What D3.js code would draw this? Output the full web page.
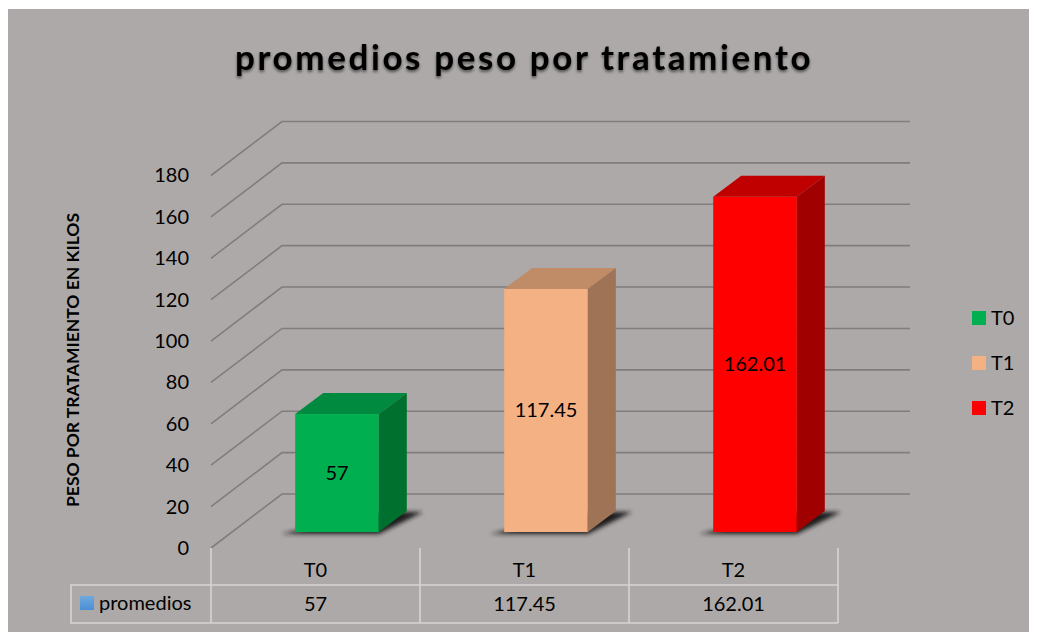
<!DOCTYPE html>
<html>
<head>
<meta charset="utf-8">
<script src="https://cdn.jsdelivr.net/npm/d3@7"></script>
<style>
 html, body { margin: 0; padding: 0; background: #fff; }
 svg { display: block; }
 text { font-family: Lato, Carlito, sans-serif; fill: #000; }
</style>
</head>
<body>
<div id="chart"></div>
<script>
 var categories = ['T0', 'T1', 'T2'];
 var promedios = [57, 117.45, 162.01];
 var value_labels = ['57', '117.45', '162.01'];
 var y_ticks = [0, 20, 40, 60, 80, 100, 120, 140, 160, 180];
 var front_colors = ['#00B050', '#F4B183', '#FF0000'];
 var top_colors = ['#008A3F', '#C08B67', '#C00000'];
 var side_colors = ['#00702F', '#9E7356', '#A00000'];

 var pic_width = 1037,
     pic_height = 632,
     panel_color = '#ADA9A8',
     grid_color = '#807E7D',
     table_color = '#D6D4D3';

 // depth of the fake 3d: walls and bars
 var wall_dx = 71, wall_dy = -54,
     bar_dx = 28, bar_dy = -21;

 var svg = d3.select('#chart').append('svg')
     .attr('width', pic_width)
     .attr('height', pic_height);

 var defs = svg.append('defs');
 defs.append('filter').attr('id', 'soft')
     .attr('x', '-20%').attr('y', '-60%').attr('width', '140%').attr('height', '220%')
     .append('feGaussianBlur').attr('stdDeviation', 2);
 defs.append('filter').attr('id', 'line_blur')
     .append('feGaussianBlur').attr('stdDeviation', 0.4);
 var title_shadow = defs.append('filter').attr('id', 'title_shadow');
 title_shadow.append('feDropShadow')
     .attr('dx', 0).attr('dy', 2).attr('stdDeviation', 1.6)
     .attr('flood-color', '#000').attr('flood-opacity', 0.55);
 var legend_grad = defs.append('linearGradient').attr('id', 'key_grad')
     .attr('x1', 0).attr('y1', 0).attr('x2', 0).attr('y2', 1);
 legend_grad.append('stop').attr('offset', '0%').attr('stop-color', '#6FA8DC');
 legend_grad.append('stop').attr('offset', '100%').attr('stop-color', '#4A8FD6');

 svg.append('rect')
     .attr('x', 8).attr('y', 9)
     .attr('width', 1021).attr('height', 623)
     .attr('fill', panel_color);

 // title
 svg.append('text')
     .attr('x', 524).attr('y', 70)
     .attr('text-anchor', 'middle')
     .style('font-size', '35px')
     .style('font-weight', 700)
     .style('letter-spacing', '2.6px')
     .attr('filter', 'url(#title_shadow)')
     .text('promedios peso por tratamiento');

 // y axis label
 svg.append('text')
     .attr('transform', 'translate(79,360) rotate(-90)')
     .attr('text-anchor', 'middle')
     .style('font-size', '17.5px')
     .style('font-weight', 700)
     .text('PESO POR TRATAMIENTO EN KILOS');

 // scales. yScale is the front of the floor, the bars sit part way into the depth
 var yScale = d3.scaleLinear().domain([0, 180]).range([548, 175.5]);
 var xScale = d3.scaleBand().domain(categories).range([211, 838]);
 var barScale = d3.scaleBand().domain(categories)
     .range([232.5, 859.5])
     .paddingInner(0.6)
     .paddingOuter(0.3);
 var barY = function(v) { return yScale(v) - 16; };

 // gridlines
 var grid = svg.append('g').attr('fill', 'none')
     .attr('stroke', grid_color).attr('stroke-width', 1.6)
     .attr('filter', 'url(#line_blur)');
 grid.selectAll('path').data(y_ticks).enter().append('path')
     .attr('d', function(d) {
         var p = d3.path();
         p.moveTo(211, yScale(d));
         p.lineTo(211 + wall_dx, yScale(d) + wall_dy);
         p.lineTo(910, yScale(d) + wall_dy);
         return p.toString();
     });

 // y axis
 var yAxis = d3.axisLeft(yScale).tickValues(y_ticks).tickSize(0).tickPadding(0);
 var yG = svg.append('g')
     .attr('transform', 'translate(189,0)')
     .call(yAxis);
 yG.select('.domain').remove();
 yG.selectAll('text')
     .style('font-family', 'Lato, Carlito, sans-serif')
     .style('font-size', '20px');

 // bars
 var bars = svg.append('g').selectAll('g').data(promedios).enter().append('g');

 bars.append('path')
     .attr('fill', '#1E1C1C')
     .attr('filter', 'url(#soft)')
     .attr('d', function(d, i) {
         var x = barScale(categories[i]), w = barScale.bandwidth(), y = barY(0);
         return 'M' + (x - 14) + ',' + (y + 2) +
             'L' + (x + w) + ',' + (y + 2) +
             'L' + (x + w + bar_dx + 16) + ',' + (y + bar_dy + 1) +
             'L' + (x + w) + ',' + (y + bar_dy + 1) + 'Z';
     });

 bars.append('rect')
     .attr('x', function(d, i) { return barScale(categories[i]); })
     .attr('y', function(d) { return barY(d); })
     .attr('width', barScale.bandwidth())
     .attr('height', function(d) { return barY(0) - barY(d); })
     .attr('fill', function(d, i) { return front_colors[i]; });

 bars.append('path')
     .attr('fill', function(d, i) { return top_colors[i]; })
     .attr('d', function(d, i) {
         var x = barScale(categories[i]), w = barScale.bandwidth(), y = barY(d);
         return 'M' + x + ',' + y + 'l' + bar_dx + ',' + bar_dy + 'h' + w + 'l' + (-bar_dx) + ',' + (-bar_dy) + 'Z';
     });

 bars.append('path')
     .attr('fill', function(d, i) { return side_colors[i]; })
     .attr('d', function(d, i) {
         var x = barScale(categories[i]) + barScale.bandwidth();
         return 'M' + x + ',' + barY(d) + 'l' + bar_dx + ',' + bar_dy +
             'V' + (barY(0) + bar_dy) + 'L' + x + ',' + barY(0) + 'Z';
     });

 // value labels, placed by hand-ish in the middle of the columns
 bars.append('text')
     .attr('x', function(d, i) { return barScale(categories[i]) + barScale.bandwidth() / 2; })
     .attr('y', function(d) { return (barY(d) + barY(0)) / 2 + 7; })
     .attr('text-anchor', 'middle')
     .style('font-size', '20px')
     .text(function(d, i) { return value_labels[i]; });

 // data table under the chart
 var table = svg.append('g').attr('stroke', table_color).attr('stroke-width', 1.6).attr('fill', 'none');
 var edges = categories.map(function(c) { return xScale(c); }).concat([xScale.range()[1]]);
 table.selectAll('line.v').data(edges).enter().append('line')
     .attr('class', 'v')
     .attr('x1', function(d) { return d; }).attr('x2', function(d) { return d; })
     .attr('y1', 548).attr('y2', 623);
 table.append('path').attr('d', 'M838,585H71V623H838');

 svg.append('g').selectAll('text.cat').data(categories).enter().append('text')
     .attr('class', 'cat')
     .attr('x', function(d) { return xScale(d) + xScale.bandwidth() / 2; })
     .attr('y', 577)
     .attr('text-anchor', 'middle')
     .style('font-size', '20px')
     .text(function(d) { return d; });

 svg.append('g').selectAll('text.val').data(value_labels).enter().append('text')
     .attr('class', 'val')
     .attr('x', function(d, i) { return xScale(categories[i]) + xScale.bandwidth() / 2; })
     .attr('y', 611)
     .attr('text-anchor', 'middle')
     .style('font-size', '20px')
     .text(function(d) { return d; });

 svg.append('rect')
     .attr('x', 80).attr('y', 596).attr('width', 14).attr('height', 14)
     .attr('fill', 'url(#key_grad)');
 svg.append('text')
     .attr('x', 99).attr('y', 610)
     .style('font-size', '20px')
     .text('promedios');

 // legend
 var legend = svg.append('g').selectAll('g').data(categories).enter().append('g')
     .attr('transform', function(d, i) { return 'translate(972,' + (311 + i * 45) + ')'; });
 legend.append('rect')
     .attr('width', 14).attr('height', 14)
     .attr('fill', function(d, i) { return front_colors[i]; });
 legend.append('text')
     .attr('x', 19).attr('y', 14)
     .style('font-size', '20px')
     .text(function(d) { return d; });
</script>
</body>
</html>
